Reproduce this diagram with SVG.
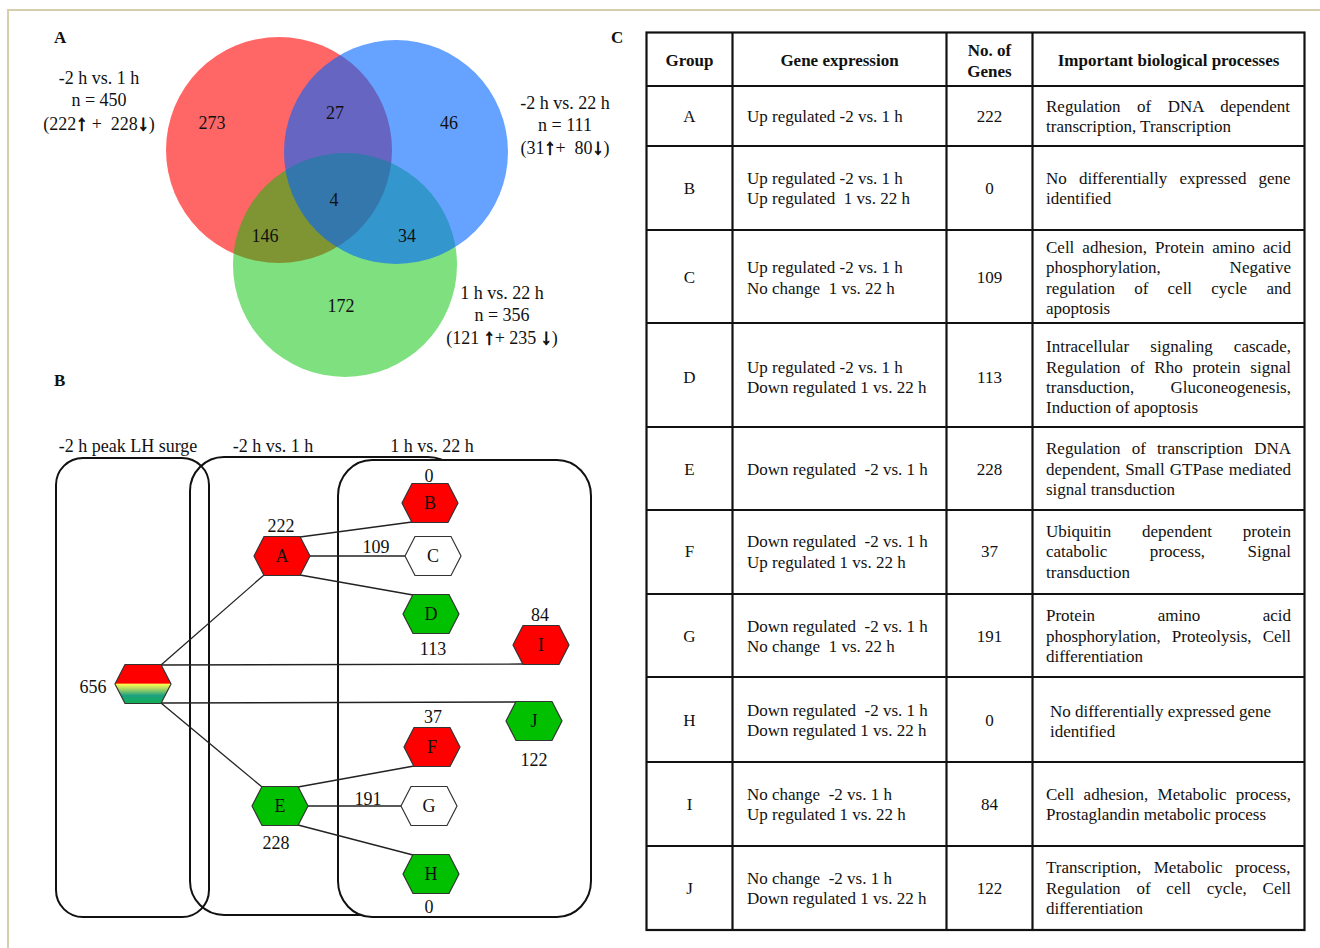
<svg xmlns="http://www.w3.org/2000/svg" xmlns:xlink="http://www.w3.org/1999/xlink" width="1320" height="948" viewBox="0 0 1320 948">
<style>
.t{font-family:"Liberation Serif","Times New Roman",serif;fill:#111}
.s18{font-size:18px}
.s17{font-size:17px}
.b{font-weight:bold}
.m{text-anchor:middle}
.pre{white-space:pre}
.ar{font-family:"Liberation Serif","DejaVu Serif",serif;font-weight:bold;font-size:22px;stroke:#111;stroke-width:0.9}
.conn line{stroke:#222;stroke-width:1.3}
.hx{stroke:#333;stroke-width:1.2}
.red{fill:#ff0000}
.grn{fill:#00c000}
.wht{fill:#ffffff}
.box{fill:#fff;stroke:#111;stroke-width:2}
.tl{stroke:#111;stroke-width:2.2;fill:none}
</style>
<defs>
<polygon id="hex" points="-28,0 -18,-19.5 18,-19.5 28,0 18,19.5 -18,19.5"/>
<linearGradient id="g656" x1="0" y1="0" x2="0" y2="1">
<stop offset="0" stop-color="#ff0000"/>
<stop offset="0.48" stop-color="#ff0000"/>
<stop offset="0.5" stop-color="#ffff50"/>
<stop offset="0.62" stop-color="#b0d860"/>
<stop offset="0.8" stop-color="#1aa080"/>
<stop offset="1" stop-color="#10b050"/>
</linearGradient>
</defs>
<rect x="0" y="0" width="1320" height="948" fill="#fff"/>
<rect x="8" y="10" width="1340" height="960" fill="none" stroke="#d6cfae" stroke-width="2"/>

<!-- Panel letters -->
<text class="t b s17" x="54" y="43">A</text>
<text class="t b s17" x="611" y="43">C</text>
<text class="t b s17" x="54" y="386">B</text>

<!-- Panel A: Venn -->
<g id="venn">
<g id="set-2h-1h"><circle cx="279" cy="150" r="113" fill="#ff0000" fill-opacity="0.6"/></g>
<g id="set-1h-22h"><circle cx="345" cy="265" r="112" fill="#00c100" fill-opacity="0.5"/></g>
<g id="set-2h-22h"><circle cx="396" cy="152" r="112" fill="#0064ff" fill-opacity="0.6"/></g>
<g id="venn-counts" class="t s18 m">
<text x="212" y="129">273</text>
<text x="335" y="119">27</text>
<text x="449" y="129">46</text>
<text x="334" y="206">4</text>
<text x="265" y="242">146</text>
<text x="407" y="242">34</text>
<text x="341" y="312">172</text>
</g>
<g id="lbl-2h-1h" class="t s18 m">
<text x="99" y="84">-2 h vs. 1 h</text>
<text x="99" y="106">n = 450</text>
<text x="99" y="130" class="pre" xml:space="preserve">(222<tspan class="ar">↑</tspan> +  228<tspan class="ar">↓</tspan>)</text>
</g>
<g id="lbl-2h-22h" class="t s18 m">
<text x="565" y="109">-2 h vs. 22 h</text>
<text x="565" y="131">n = 111</text>
<text x="565" y="154" class="pre" xml:space="preserve">(31<tspan class="ar">↑</tspan>+  80<tspan class="ar">↓</tspan>)</text>
</g>
<g id="lbl-1h-22h" class="t s18 m">
<text x="502" y="299">1 h vs. 22 h</text>
<text x="502" y="321">n = 356</text>
<text x="502" y="344">(121 <tspan class="ar">↑</tspan>+ 235 <tspan class="ar">↓</tspan>)</text>
</g>
</g>

<!-- Panel B -->
<g id="panelB-titles" class="t s18 m">
<text x="128" y="452">-2 h peak LH surge</text>
<text x="273" y="452">-2 h vs. 1 h</text>
<text x="432" y="452">1 h vs. 22 h</text>
</g>
<g id="stage-boxes">
<rect id="box-2h-1h" class="box" x="190" y="457" width="272" height="458" rx="34" ry="34"/>
<rect id="box-1h-22h" class="box" x="338" y="460" width="253" height="457" rx="34" ry="36"/>
<rect id="box-peak" class="box" x="56" y="458" width="153" height="459" rx="27" ry="27" style="fill:none"/>
</g>

<g id="connectors" class="conn">
<line x1="161" y1="665" x2="264" y2="575"/>
<line x1="161" y1="665" x2="523" y2="664"/>
<line x1="161" y1="703" x2="516" y2="702"/>
<line x1="161" y1="703" x2="262" y2="787"/>
<line x1="300" y1="537" x2="412" y2="522"/>
<line x1="310" y1="556" x2="405" y2="556"/>
<line x1="300" y1="575" x2="413" y2="595"/>
<line x1="298" y1="787" x2="414" y2="766"/>
<line x1="308" y1="806" x2="401" y2="806"/>
<line x1="298" y1="825" x2="413" y2="855"/>
</g>

<g id="node-656">
<use xlink:href="#hex" href="#hex" x="143" y="684" class="hx" fill="url(#g656)"/>
<text class="t s18 m" x="93" y="693">656</text>
</g>
<g id="node-A">
<use xlink:href="#hex" href="#hex" x="282" y="556" class="hx red"/>
<text class="t s18 m" x="282" y="562">A</text>
<text class="t s18 m" x="281" y="532">222</text>
</g>
<g id="node-B">
<use xlink:href="#hex" href="#hex" x="430" y="503" class="hx red"/>
<text class="t s18 m" x="430" y="509">B</text>
<text class="t s18 m" x="429" y="482">0</text>
</g>
<g id="node-C">
<use xlink:href="#hex" href="#hex" x="433" y="556" class="hx wht"/>
<text class="t s18 m" x="433" y="562">C</text>
<text class="t s18 m" x="376" y="553">109</text>
</g>
<g id="node-D">
<use xlink:href="#hex" href="#hex" x="431" y="614" class="hx grn"/>
<text class="t s18 m" x="431" y="620">D</text>
<text class="t s18 m" x="433" y="655">113</text>
</g>
<g id="node-I">
<use xlink:href="#hex" href="#hex" x="541" y="645" class="hx red"/>
<text class="t s18 m" x="541" y="651">I</text>
<text class="t s18 m" x="540" y="621">84</text>
</g>
<g id="node-J">
<use xlink:href="#hex" href="#hex" x="534" y="721" class="hx grn"/>
<text class="t s18 m" x="534" y="727">J</text>
<text class="t s18 m" x="534" y="766">122</text>
</g>
<g id="node-F">
<use xlink:href="#hex" href="#hex" x="432" y="747" class="hx red"/>
<text class="t s18 m" x="432" y="753">F</text>
<text class="t s18 m" x="433" y="723">37</text>
</g>
<g id="node-E">
<use xlink:href="#hex" href="#hex" x="280" y="806" class="hx grn"/>
<text class="t s18 m" x="280" y="812">E</text>
<text class="t s18 m" x="276" y="849">228</text>
</g>
<g id="node-G">
<use xlink:href="#hex" href="#hex" x="429" y="806" class="hx wht"/>
<text class="t s18 m" x="429" y="812">G</text>
<text class="t s18 m" x="368" y="805">191</text>
</g>
<g id="node-H">
<use xlink:href="#hex" href="#hex" x="431" y="874" class="hx grn"/>
<text class="t s18 m" x="431" y="880">H</text>
<text class="t s18 m" x="429" y="913">0</text>
</g>

<!-- Panel C: table -->
<g id="table">
<rect class="tl" x="646.5" y="32.5" width="658" height="897.5"/>
<g class="tl">
<line x1="732.5" y1="32.5" x2="732.5" y2="930"/>
<line x1="946.5" y1="32.5" x2="946.5" y2="930"/>
<line x1="1032.5" y1="32.5" x2="1032.5" y2="930"/>
<line x1="646.5" y1="86" x2="1304.5" y2="86"/>
<line x1="646.5" y1="146" x2="1304.5" y2="146"/>
<line x1="646.5" y1="230" x2="1304.5" y2="230"/>
<line x1="646.5" y1="323" x2="1304.5" y2="323"/>
<line x1="646.5" y1="427" x2="1304.5" y2="427"/>
<line x1="646.5" y1="510" x2="1304.5" y2="510"/>
<line x1="646.5" y1="594" x2="1304.5" y2="594"/>
<line x1="646.5" y1="677" x2="1304.5" y2="677"/>
<line x1="646.5" y1="762" x2="1304.5" y2="762"/>
<line x1="646.5" y1="846" x2="1304.5" y2="846"/>
</g>
<g id="table-header" class="t s17 b m">
<text x="689.5" y="66">Group</text>
<text x="839.5" y="66">Gene expression</text>
<text x="989.5" y="56">No. of</text>
<text x="989.5" y="77">Genes</text>
<text x="1168.5" y="66">Important biological processes</text>
</g>
<g id="table-groups" class="t s17 m">
<text x="689.5" y="122">A</text>
<text x="689.5" y="194">B</text>
<text x="689.5" y="283">C</text>
<text x="689.5" y="383">D</text>
<text x="689.5" y="475">E</text>
<text x="689.5" y="557">F</text>
<text x="689.5" y="642">G</text>
<text x="689.5" y="726">H</text>
<text x="689.5" y="810">I</text>
<text x="689.5" y="894">J</text>
</g>
<g id="table-counts" class="t s17 m">
<text x="989.5" y="122">222</text>
<text x="989.5" y="194">0</text>
<text x="989.5" y="283">109</text>
<text x="989.5" y="383">113</text>
<text x="989.5" y="475">228</text>
<text x="989.5" y="557">37</text>
<text x="989.5" y="642">191</text>
<text x="989.5" y="726">0</text>
<text x="989.5" y="810">84</text>
<text x="989.5" y="894">122</text>
</g>
<g id="table-expression" class="t s17 pre">
<text x="747" y="122" xml:space="preserve">Up regulated -2 vs. 1 h</text>
<text x="747" y="184" xml:space="preserve">Up regulated -2 vs. 1 h</text>
<text x="747" y="204" xml:space="preserve">Up regulated  1 vs. 22 h</text>
<text x="747" y="273" xml:space="preserve">Up regulated -2 vs. 1 h</text>
<text x="747" y="294" xml:space="preserve">No change  1 vs. 22 h</text>
<text x="747" y="373" xml:space="preserve">Up regulated -2 vs. 1 h</text>
<text x="747" y="393" xml:space="preserve">Down regulated 1 vs. 22 h</text>
<text x="747" y="475" xml:space="preserve">Down regulated  -2 vs. 1 h</text>
<text x="747" y="547" xml:space="preserve">Down regulated  -2 vs. 1 h</text>
<text x="747" y="568" xml:space="preserve">Up regulated 1 vs. 22 h</text>
<text x="747" y="632" xml:space="preserve">Down regulated  -2 vs. 1 h</text>
<text x="747" y="652" xml:space="preserve">No change  1 vs. 22 h</text>
<text x="747" y="716" xml:space="preserve">Down regulated  -2 vs. 1 h</text>
<text x="747" y="736" xml:space="preserve">Down regulated 1 vs. 22 h</text>
<text x="747" y="800" xml:space="preserve">No change  -2 vs. 1 h</text>
<text x="747" y="820" xml:space="preserve">Up regulated 1 vs. 22 h</text>
<text x="747" y="884" xml:space="preserve">No change  -2 vs. 1 h</text>
<text x="747" y="904" xml:space="preserve">Down regulated 1 vs. 22 h</text>
</g>
<g id="table-processes" class="t s17">
<text x="1046" y="112" style="word-spacing:12.26px">Regulation of DNA dependent</text>
<text x="1046" y="132">transcription, Transcription</text>
<text x="1046" y="184" style="word-spacing:7.86px">No differentially expressed gene</text>
<text x="1046" y="204">identified</text>
<text x="1046" y="253" style="word-spacing:3.76px">Cell adhesion, Protein amino acid</text>
<text x="1046" y="273" style="word-spacing:64.63px">phosphorylation, Negative</text>
<text x="1046" y="294" style="word-spacing:14.98px">regulation of cell cycle and</text>
<text x="1046" y="314">apoptosis</text>
<text x="1046" y="352" style="word-spacing:16.99px">Intracellular signaling cascade,</text>
<text x="1046" y="373" style="word-spacing:5.53px">Regulation of Rho protein signal</text>
<text x="1046" y="393" style="word-spacing:32.06px">transduction, Gluconeogenesis,</text>
<text x="1046" y="413">Induction of apoptosis</text>
<text x="1046" y="454" style="word-spacing:6.91px">Regulation of transcription DNA</text>
<text x="1046" y="475" style="word-spacing:0.77px">dependent, Small GTPase mediated</text>
<text x="1046" y="495">signal transduction</text>
<text x="1046" y="537" style="word-spacing:26.65px">Ubiquitin dependent protein</text>
<text x="1046" y="557" style="word-spacing:38.22px">catabolic process, Signal</text>
<text x="1046" y="578">transduction</text>
<text x="1046" y="621" style="word-spacing:58.28px">Protein amino acid</text>
<text x="1046" y="642" style="word-spacing:6.8px">phosphorylation, Proteolysis, Cell</text>
<text x="1046" y="662">differentiation</text>
<text x="1050" y="717">No differentially expressed gene</text>
<text x="1050" y="737">identified</text>
<text x="1046" y="800" style="word-spacing:5.02px">Cell adhesion, Metabolic process,</text>
<text x="1046" y="820">Prostaglandin metabolic process</text>
<text x="1046" y="873" style="word-spacing:8.25px">Transcription, Metabolic process,</text>
<text x="1046" y="894" style="word-spacing:11.55px">Regulation of cell cycle, Cell</text>
<text x="1046" y="914">differentiation</text>
</g>
</g>
</svg>
